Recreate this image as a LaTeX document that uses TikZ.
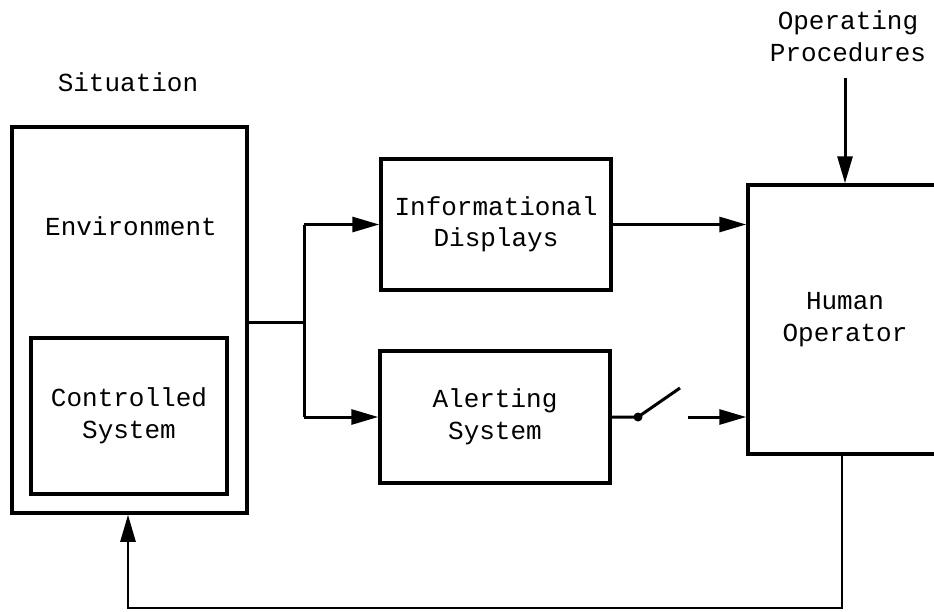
\documentclass[tikz,border=0pt]{standalone}
\usepackage{fontspec}
\setmainfont{Liberation Mono}
\usetikzlibrary{arrows.meta}
\begin{document}
\begin{tikzpicture}[x=1pt,y=-1pt,
  every node/.style={font=\fontsize{26}{31.5}\selectfont},
  blk/.style={draw,line width=3.5pt,inner sep=0pt,align=center},
  conn/.style={line width=3pt},
  arr/.style={line width=3pt,-{Triangle[length=27pt,width=15pt]}},
  fbline/.style={line width=2.6pt},
  lbl/.style={align=center,inner sep=0pt}]
\useasboundingbox (0,0) rectangle (934,611);
% boxes
\node[blk,minimum width=235pt,minimum height=386pt] (outer) at (129.5,320) {};
\node[blk,minimum width=196pt,minimum height=156pt] (inner) at (129,416) {Controlled\\System};
\node[blk,minimum width=230pt,minimum height=131pt] (info) at (496,224.5) {Informational\\Displays};
\node[blk,minimum width=230pt,minimum height=132pt] (alert) at (495,417) {Alerting\\System};
\node[blk,minimum width=194pt,minimum height=269pt] (ho) at (845,319.5) {Human\\Operator};
% labels
\node[lbl] (sit) at (128,82) {Situation};
\node[lbl] (env) at (131,226) {Environment};
\node[lbl] (op) at (848,36) {Operating\\Procedures};
% branch
\coordinate (br) at (304,322);
\draw[conn] (outer.east |- br) -- (br);
\draw[conn] (br |- info.west) -- (br |- alert.west);
\draw[arr] (br |- info.west) -- (info.west);
\draw[arr] (br |- alert.west) -- (alert.west);
% info to operator
\draw[arr] (info.east) -- (info.east -| ho.west);
% switch
\coordinate (sw) at (638,417);
\coordinate (swt) at (680,388);
\coordinate (swo) at (688,417);
\draw[conn] (alert.east) -- (sw) -- (swt);
\fill (sw) circle (4.5pt);
\draw[arr] (swo) -- (swo -| ho.west);
% operating procedures
\coordinate (opa) at (845,78);
\draw[arr] (opa) -- (opa |- ho.north);
% feedback
\coordinate (fbA) at (842,608);
\coordinate (fbB) at (128,608);
\draw[arr,line width=2.6pt,line join=miter] (fbA |- ho.south) -- (fbA) -- (fbB) -- (fbB |- outer.south);
\end{tikzpicture}
\end{document}
